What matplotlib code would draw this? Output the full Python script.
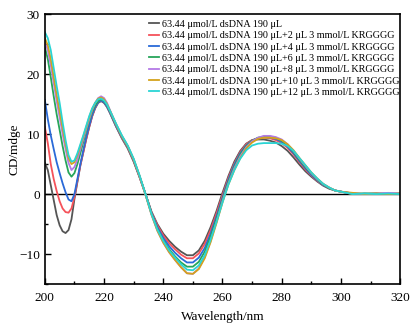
import matplotlib
matplotlib.use("Agg")
import matplotlib.pyplot as plt
from matplotlib.ticker import MultipleLocator

plt.rcParams['font.family'] = ['Liberation Serif', 'DejaVu Serif']
plt.rcParams['mathtext.fontset'] = 'stix'

wavelength = [200, 201, 202, 203, 204, 205, 206, 207, 208, 209, 210, 211, 212, 213, 214, 215,
              216, 217, 218, 219, 220, 221, 222,
              224, 226, 228, 230, 232, 234, 236, 238, 240, 242, 244, 246, 248, 250, 252, 254,
              256, 258, 260, 262, 264, 266, 268, 270, 272, 274, 276, 278, 280, 282, 284, 286,
              288, 290, 292, 294, 296, 298, 300,
              304, 308, 312, 316, 320]

cd_0 = [5.2, 4.0, 1.5, -1.0, -3.5, -5.2, -6.2, -6.5, -6.0, -4.2, -0.8, 2.0, 4.8, 7.0, 9.2, 11.2,
        13.0, 14.3, 15.2, 15.5, 15.2, 14.5, 13.5,
        11.3, 9.3, 7.6, 5.4, 2.8, 0.0, -2.9, -5.0, -6.6, -7.8, -8.8, -9.6, -10.2, -10.2, -9.4, -7.8,
        -5.5, -2.8, 0.2, 3.0, 5.4, 7.2, 8.4, 9.0, 9.1, 9.1, 8.9, 8.6, 8.0, 7.2, 6.1, 4.9,
        3.8, 2.9, 2.1, 1.4, 0.9, 0.6, 0.4,
        0.1, 0.0, 0.1, 0.0, 0.1]
cd_2 = [11.2, 8.5, 5.0, 2.5, 0.5, -1.2, -2.4, -3.0, -3.1, -2.4, -0.5, 2.2, 4.8, 7.0, 9.2, 11.2,
        13.0, 14.4, 15.3, 15.6, 15.3, 14.6, 13.6,
        11.4, 9.4, 7.7, 5.5, 2.8, 0.0, -3.0, -5.2, -6.9, -8.2, -9.2, -10.1, -10.7, -10.7, -9.9, -8.3,
        -6.0, -3.2, -0.2, 2.7, 5.1, 7.0, 8.3, 9.0, 9.3, 9.4, 9.3, 9.0, 8.5, 7.7, 6.6, 5.3,
        4.1, 3.1, 2.2, 1.5, 1.0, 0.6, 0.4,
        0.0, 0.1, 0.0, 0.1, 0.0]
cd_4 = [15.7, 12.5, 9.8, 7.5, 5.3, 3.5, 1.8, 0.3, -0.9, -1.2, 0.0, 2.5, 5.0, 7.3, 9.5, 11.4,
        13.2, 14.5, 15.3, 15.6, 15.3, 14.6, 13.6,
        11.4, 9.5, 7.8, 5.6, 2.9, 0.0, -3.1, -5.5, -7.3, -8.7, -9.8, -10.7, -11.4, -11.4, -10.6, -9.0,
        -6.6, -3.7, -0.6, 2.4, 4.9, 6.8, 8.1, 8.9, 9.3, 9.5, 9.4, 9.2, 8.7, 7.9, 6.8, 5.5,
        4.3, 3.2, 2.3, 1.5, 1.0, 0.6, 0.4,
        0.1, 0.0, 0.0, 0.1, 0.0]
cd_6 = [24.5, 22.5, 19.5, 16.3, 13.3, 10.7, 8.0, 5.6, 3.6, 2.9, 3.5, 5.0, 6.8, 8.7, 10.5, 12.2,
        13.7, 14.8, 15.5, 15.8, 15.5, 14.8, 13.8,
        11.6, 9.6, 7.9, 5.7, 3.0, 0.0, -3.2, -5.8, -7.7, -9.2, -10.4, -11.4, -12.1, -12.1, -11.3, -9.6,
        -7.1, -4.1, -0.9, 2.1, 4.6, 6.6, 8.0, 8.9, 9.4, 9.6, 9.6, 9.4, 8.9, 8.1, 7.0, 5.7,
        4.5, 3.4, 2.4, 1.6, 1.0, 0.6, 0.4,
        0.0, 0.1, 0.1, 0.0, 0.1]
cd_8 = [25.3, 24.0, 21.5, 18.5, 15.5, 12.8, 10.0, 7.5, 5.2, 4.0, 4.5, 5.8, 7.5, 9.2, 10.9, 12.5,
        14.0, 15.2, 16.0, 16.3, 16.0, 15.2, 14.0,
        11.7, 9.7, 8.0, 5.8, 3.0, -0.1, -3.4, -6.1, -8.1, -9.7, -11.0, -12.2, -13.2, -13.3, -12.4, -10.5,
        -7.8, -4.6, -1.2, 1.8, 4.3, 6.3, 7.8, 8.8, 9.4, 9.7, 9.7, 9.5, 9.1, 8.3, 7.2, 5.9,
        4.7, 3.5, 2.5, 1.7, 1.1, 0.6, 0.4,
        0.1, 0.0, 0.1, 0.2, 0.1]
cd_10 = [26.0, 24.8, 22.5, 19.5, 16.5, 13.8, 11.0, 8.3, 6.0, 5.0, 5.3, 6.5, 8.0, 9.6, 11.2, 12.8,
         14.2, 15.2, 15.9, 16.1, 15.8, 15.0, 13.9,
         11.7, 9.7, 8.0, 5.8, 3.0, -0.1, -3.4, -6.1, -8.1, -9.7, -11.0, -12.2, -13.2, -13.3, -12.5, -10.7,
         -8.0, -4.8, -1.4, 1.6, 4.0, 6.0, 7.6, 8.6, 9.2, 9.4, 9.4, 9.3, 9.0, 8.3, 7.3, 6.0,
         4.8, 3.6, 2.6, 1.7, 1.1, 0.6, 0.4,
         0.2, 0.0, 0.1, 0.0, 0.1]
cd_12 = [27.0, 26.0, 24.0, 21.0, 18.0, 15.2, 12.0, 9.0, 6.5, 5.4, 5.6, 6.8, 8.3, 9.8, 11.4, 13.0,
         14.3, 15.2, 15.8, 15.9, 15.6, 14.9, 13.9,
         11.8, 9.8, 8.1, 5.9, 3.1, 0.0, -3.3, -5.9, -7.8, -9.4, -10.6, -11.7, -12.6, -12.7, -11.9, -10.2,
         -7.6, -4.6, -1.4, 1.6, 4.0, 5.9, 7.3, 8.1, 8.4, 8.5, 8.5, 8.5, 8.4, 8.0, 7.2, 6.0,
         4.8, 3.6, 2.6, 1.7, 1.1, 0.6, 0.4,
         0.0, 0.1, 0.0, 0.1, 0.0]

labels = [
    "63.44 μmol/L dsDNA 190 μL",
    "63.44 μmol/L dsDNA 190 μL+2 μL 3 mmol/L KRGGGG",
    "63.44 μmol/L dsDNA 190 μL+4 μL 3 mmol/L KRGGGG",
    "63.44 μmol/L dsDNA 190 μL+6 μL 3 mmol/L KRGGGG",
    "63.44 μmol/L dsDNA 190 μL+8 μL 3 mmol/L KRGGGG",
    "63.44 μmol/L dsDNA 190 μL+10 μL 3 mmol/L KRGGGG",
    "63.44 μmol/L dsDNA 190 μL+12 μL 3 mmol/L KRGGGG",
]
series = [cd_0, cd_2, cd_4, cd_6, cd_8, cd_10, cd_12]
colors = ['#555555', '#f5525a', '#2a6ad8', '#27a55a', '#b47ae6', '#d4a21c', '#2ad4d4']

fig = plt.figure(figsize=(4.19, 3.28), dpi=100)
ax = fig.add_axes([0.107, 0.134, 0.848, 0.823])

ax.axhline(0, color='black', lw=1.0, zorder=1)
for vals, lab, c in zip(series, labels, colors):
    ax.plot(wavelength, vals, color=c, lw=1.3, label=lab, zorder=2)

ax.set_xlim(200, 320)
ax.set_ylim(-15, 30)
ax.xaxis.set_major_locator(MultipleLocator(20))
ax.xaxis.set_minor_locator(MultipleLocator(10))
ax.yaxis.set_major_locator(MultipleLocator(10))
ax.yaxis.set_minor_locator(MultipleLocator(5))
ax.tick_params(which='both', direction='in', top=False, right=False, labelsize=9.5, width=1)
ax.tick_params(which='major', length=4)
ax.tick_params(axis='x', which='major', pad=6)
ax.tick_params(which='minor', length=2.5)
for s in ax.spines.values():
    s.set_linewidth(1.2)

ax.set_xlabel("Wavelength/nm", fontsize=9.5, labelpad=5)
ax.set_ylabel("CD/mdge", fontsize=9.5, labelpad=-1)

ax.legend(loc='upper left', bbox_to_anchor=(0.285, 0.99), frameon=False, fontsize=7.3,
          handlelength=1.0, handletextpad=0.3, labelspacing=0.22, borderpad=0.2,
          borderaxespad=0.1)

fig.savefig("out.png", dpi=100)
